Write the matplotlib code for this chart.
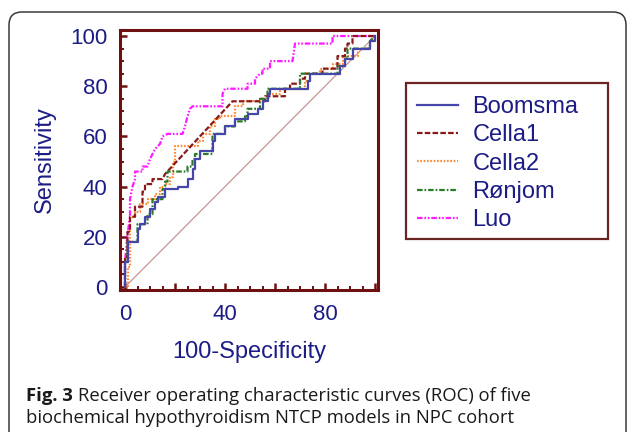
import matplotlib
matplotlib.use("Agg")
import matplotlib.pyplot as plt
import matplotlib.patches as mpatches
from matplotlib.ticker import MultipleLocator

plt.rcParams['font.family'] = ['Liberation Sans', 'DejaVu Sans']
plt.rcParams['lines.scale_dashes'] = False

# ROC curve vertices (100-Specificity, Sensitivity)
boomsma = [(0, 0), (0, 10), (1, 10), (1, 18), (5, 18), (5, 23), (6, 23), (6, 25), (8, 25),
           (8, 28), (10, 28), (10, 31), (12, 31), (12, 34), (13, 34), (13, 36), (16, 36),
           (16, 39), (21, 39), (21, 40), (25, 40), (25, 43), (27, 43), (27, 47), (28, 47),
           (28, 51), (30, 51), (30, 54), (35, 54), (35, 58), (36, 58), (36, 61), (40, 61),
           (40, 64), (44, 64), (44, 67), (49, 67), (49, 69), (53, 69), (53, 71), (55, 71),
           (55, 74), (57, 74), (57, 77), (58, 77), (58, 79), (73, 79), (73, 82), (74, 82),
           (74, 85), (86, 85), (86, 88), (88, 88), (88, 91), (91, 91), (91, 95), (98, 95),
           (98, 98), (100, 98), (100, 100)]

cella1 = [(0, 0), (0, 12), (1, 12), (1, 22), (2, 22), (2, 28), (4, 28), (4, 32), (7, 32),
          (7, 38), (8, 38), (8, 41), (11, 41), (11, 43), (15, 43), (16, 45), (43, 74),
          (56, 74), (56, 76), (64, 76), (64, 79), (66, 79), (66, 81), (70, 81), (70, 83),
          (72, 83), (72, 85), (79, 85), (79, 87), (85, 87), (85, 92), (88, 92), (88, 95),
          (89, 95), (89, 97), (91, 97), (91, 100), (100, 100)]

cella2 = [(0, 0), (1, 0), (1, 8), (2, 8), (2, 28), (4, 28), (4, 30), (6, 30), (6, 33),
          (9, 33), (9, 35), (12, 35), (12, 37), (14, 37), (14, 40), (16, 40), (16, 41),
          (18, 41), (18, 44), (19, 44), (19, 50), (20, 50), (20, 56), (29, 56), (29, 58),
          (31, 58), (31, 61), (34, 61), (34, 64), (36, 64), (36, 67), (38, 67), (38, 68),
          (44, 68), (44, 72), (47, 72), (47, 74), (54, 74), (54, 75), (57, 75), (57, 77),
          (62, 77), (62, 79), (72, 79), (72, 82), (74, 82), (74, 85), (78, 85), (78, 87),
          (83, 87), (83, 89), (87, 89), (87, 92), (93, 92), (93, 95), (98, 95), (98, 98),
          (100, 98), (100, 100)]

ronjom = [(0, 0), (0, 10), (1, 10), (1, 18), (5, 18), (5, 25), (9, 25), (9, 29), (11, 29),
          (11, 35), (15, 35), (15, 39), (16, 39), (16, 42), (17, 42), (17, 46), (25, 46),
          (25, 48), (27, 48), (27, 51), (28, 51), (28, 53), (35, 53), (35, 61), (40, 61),
          (40, 64), (44, 64), (44, 66), (48, 66), (48, 68), (49, 68), (49, 71), (54, 71),
          (54, 75), (57, 75), (57, 79), (70, 79), (70, 85), (85, 85), (85, 88), (88, 88),
          (88, 91), (89, 91), (89, 95), (98, 95), (98, 98), (100, 100)]

luo = [(0, 0), (0, 10), (1, 21), (2, 28), (2, 35), (3, 40), (4, 43), (4, 46), (7, 46),
       (7, 48), (9, 48), (10, 51), (11, 53), (12, 55), (14, 57), (15, 60), (17, 61),
       (23, 61), (24, 64), (25, 68), (26, 71), (27, 72), (39, 72), (39, 77), (40, 79),
       (49, 79), (49, 81), (52, 81), (52, 83), (54, 85), (55, 85), (55, 87), (58, 87),
       (58, 90), (67, 90), (68, 97), (83, 97), (83, 100), (100, 100)]

names = ['Boomsma', 'Cella1', 'Cella2', 'Rønjom', 'Luo']
x_ticks = [0, 20, 40, 60, 80, 100]
x_labels = ['0', '', '40', '', '80', '']
y_ticks = [0, 20, 40, 60, 80, 100]

navy = '#1c1c86'
axis_red = '#6e1010'

fig = plt.figure(figsize=(6.29, 4.32), dpi=100)

# outer rounded frame (open at the bottom)
frame = mpatches.FancyBboxPatch((0.09, -0.6), 6.17, 4.80,
                                boxstyle="round,pad=0,rounding_size=0.13",
                                transform=fig.dpi_scale_trans, fill=False,
                                edgecolor='#3a3a3a', linewidth=1.1)
fig.patches.append(frame)

ax = fig.add_axes([120 / 629, 1 - 290 / 432, 258 / 629, 260 / 432])
ax.set_xlim(-2, 101.2)
ax.set_ylim(-1.2, 102.4)


def xy(pts):
    return [p[0] for p in pts], [p[1] for p in pts]


ax.plot([0, 100], [0, 100], color='#c89494', lw=0.9)
l_luo, = ax.plot(*xy(luo), color='#ff1aff', lw=1.6, ls=(0, (4, 1.3, 1.2, 1.3, 1.2, 1.3)))
l_c2, = ax.plot(*xy(cella2), color='#ff8a33', lw=1.6, ls=(0, (1.2, 1.2)))
l_c1, = ax.plot(*xy(cella1), color='#8a1a1a', lw=1.6, ls=(0, (4, 1.6)))
l_ron, = ax.plot(*xy(ronjom), color='#2a7a2a', lw=1.6, ls=(0, (4, 1.4, 1.2, 1.4)))
l_boo, = ax.plot(*xy(boomsma), color='#4646aa', lw=1.6)

for s in ax.spines.values():
    s.set_color(axis_red)
    s.set_linewidth(2.2)

ax.set_xticks(x_ticks)
ax.set_xticklabels(x_labels)
ax.set_yticks(y_ticks)
ax.xaxis.set_minor_locator(MultipleLocator(5))
ax.yaxis.set_minor_locator(MultipleLocator(5))
ax.tick_params(which='both', direction='in', color=axis_red, top=False, right=False)
ax.tick_params(which='major', length=5, width=1.8)
ax.tick_params(which='minor', length=2.6, width=1.4)
ax.tick_params(axis='y', which='major', labelsize=16, labelcolor=navy, pad=9)
ax.tick_params(axis='x', which='major', labelsize=16, labelcolor=navy, pad=10)

ax.set_xlabel('100-Specificity', fontsize=17, color=navy, labelpad=11.5)
ax.set_ylabel('Sensitivity', fontsize=17, color=navy, labelpad=10.5)

# legend box
fig.patches.append(mpatches.Rectangle((406 / 629, 1 - 239 / 432), 202 / 629, 156 / 432,
                                      transform=fig.transFigure, fill=False,
                                      edgecolor='#6a2424', linewidth=1.6))
fig.legend([l_boo, l_c1, l_c2, l_ron, l_luo], names, loc='upper left',
           bbox_to_anchor=(417 / 629, 1 - 96 / 432), frameon=False, fontsize=17,
           handlelength=1.75, handletextpad=0.6, labelspacing=0.27, borderpad=0,
           borderaxespad=0, labelcolor=navy)

# caption
cap_font = ['Open Sans', 'DejaVu Sans']
cap_size = 13.3
t1 = fig.text(26 / 629, 1 - 396 / 432, 'Fig. 3', fontsize=cap_size, fontweight='bold',
              family=cap_font, va='center', color='#1a1a1a')
fig.canvas.draw()
bb = t1.get_window_extent()
fig.text(bb.x1 / 629 + 5 / 629, 1 - 396 / 432,
         'Receiver operating characteristic curves (ROC) of five',
         fontsize=cap_size, family=cap_font, va='center', color='#1a1a1a')
fig.text(26 / 629, 1 - 418 / 432,
         'biochemical hypothyroidism NTCP models in NPC cohort',
         fontsize=cap_size, family=cap_font, va='center', color='#1a1a1a')

fig.savefig('out.png', dpi=100)
